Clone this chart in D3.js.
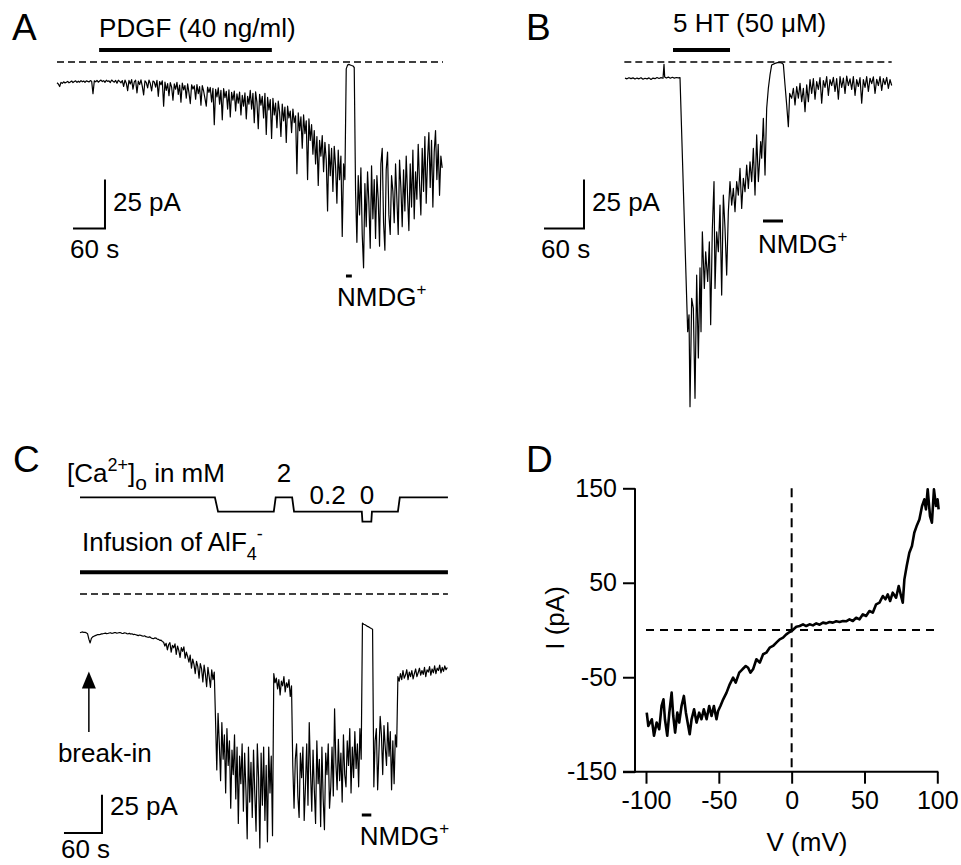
<!DOCTYPE html>
<html><head><meta charset="utf-8">
<script src="https://cdn.jsdelivr.net/npm/d3@7"></script>
<style>
body{margin:0;background:#fff}
text{font-family:'Liberation Sans',Arial,Helvetica,sans-serif;fill:#000}
</style>
</head><body>
<svg id="chart" width="961" height="865"></svg>
<script>
// ---------------- DATA ----------------
// Panel A: whole-cell current (pA), sampled every aStep seconds
const aStep = 2.5;
const aCurrent = [
-10.6,-11.2,-12.5,-10.4,-10.9,-10.1,-10.7,-10.3,-9.9,-10.6,
-10.2,-9.7,-10.5,-10.0,-9.6,-10.4,-9.8,-10.3,-9.5,-10.1,
-9.7,-10.4,-9.6,-9.9,-10.2,-9.5,-9.8,-16.2,-9.6,-10.1,
-9.4,-10.3,-9.7,-9.2,-10.0,-9.5,-10.4,-9.3,-9.9,-9.6,
-10.5,-9.2,-9.8,-10.3,-9.4,-10.8,-9.3,-9.9,-10.6,
-9.5,-12.5,-9.2,-10.8,-14.6,-9.4,-11.2,-9.0,-13.8,-10.1,
-9.3,-15.8,-9.8,-11.5,-9.1,-12.4,-16.8,-9.6,-10.5,-13.2,
-9.2,-11.0,-14.8,-9.7,-10.2,-12.8,-9.4,-17.5,-10.0,-11.6,
-9.6,-22.5,
-10.2,-14.5,-11.0,-17.2,-10.5,-12.8,-19.5,-11.2,
-13.9,-10.4,-16.5,-11.8,-20.5,-10.8,-14.2,-12.0,
-18.4,-11.2,-15.6,-21.2,-11.6,-13.8,-12.2,-19.0,
-11.5,-16.2,-12.6,-22.0,-12.0,-14.8,-18.6,-22.5,
-12.8,-15.5,-13.0,-20.4,-13.4,-32.0,-14.0,-17.8,
-13.2,-21.5,-14.5,-29.5,-13.6,-18.2,-15.0,-24.0,
-14.2,-28.0,-15.5,-19.5,-14.8,-25.0,-16.2,-21.0,
-15.4,-27.0,-17.0,-22.5,-15.8,-29.0,-17.5,-21.5,
-14.5,-24.0,-16.0,-31.0,-15.2,-20.5,-34.0,-16.5,
-22.0,-17.5,-28.5,-16.0,-37.0,-18.0,-24.5,-19.2,
-39.0,-18.5,-27.0,-21.0,-33.5,-20.0,-25.5,-38.0,
-21.5,-30.0,-23.0,-41.0,-22.5,-28.5,-25.0,-36.0,
-24.0,-31.0,-27.5,-57.0,-26.0,-35.0,-28.0,-44.0,
-27.0,-36.5,-30.0,-60.0,-29.0,-40.0,-32.0,-47.0,
-35.0,-52.0,-38.0,-63.0,-40.0,-48.0,-37.5,-56.0,
-41.0,-50.0,-76.0,-42.0,-58.0,-44.0,-66.0,-43.0,
-53.0,-72.0,-45.0,-60.0,-48.0,-89.0,-52.0,-60.0,
-3.5,-1.6,-1.2,-1.5,-1.8,-2.0,-2.8,
-66,-92,-58,-78,-54,-88,-105,-62,
-84,-56,-72,-95,-53,-80,-60,-90,
-58,-70,-94,-52,-44,-82,-96,-55,
-46,-78,-88,-58,-66,
-82,-52,-70,-88,-50,-64,-84,-55,
-76,-48,-68,-86,-52,-74,-45,-80,
-56,-70,-42,-62,-78,-44,-66,-38,
-72,-50,-36,-64,-40,-74,-46,-35,
-60,-42,-68,-48,-54];
const aPdgf = [79, 403];      // application period (s)
const aNmdg = [542, 553];

// Panel B
const bTime = [0,3,6,9,12,15,18,21,24,27,30,33,36,39,42,45,48,51,54,57,58.5,59.5,62,65,68,71,74,77,80,82.5,
94,96,97.5,100,102.5,105,107.5,110,112.5,114,116,119,121,124,126.5,128.5,131,133.5,135,137.5,140,142.5,145,147.5,150,152.5,155,157.5,160,162.5,165,167.5,170,172.5,175,177.5,180,182.5,185,187.5,190,192.5,195,197.5,200,201.5,203.5,205,207.5,210,212.5,215,217.5,220,225,230,235,237.5,240,242.5,245,247,250,252.5,255,257.5,260,262.5,265,267.5,270,272.5,275,
277.5,280,282.5,285,287.5,290,292.5,295,297.5,300,302.5,305,307.5,310,312.5,315,317.5,320,322.5,325,327.5,330,332.5,335,337.5,340,342.5,345,347.5,350,352.5,355,357.5,360,362.5,365,367.5,370,372.5,375,377.5,380,382.5,385,387.5,390,392.5,395,397.5,400];
const bCurrent = [-8.2,-8.6,-8.0,-8.5,-8.1,-8.7,-8.2,-8.6,-8.0,-8.8,-8.3,-8.6,-8.1,-8.9,-8.2,-8.5,-7.9,-8.4,-8.0,-8.3,-1.2,-7.6,-8.2,-7.7,-8.3,-7.8,-8.2,-7.9,-8.1,-8.0,
-137.6,-129,-175.9,-120.6,-125.7,-171.6,-108.7,-151,-105,-137.6,-86.6,-115.5,-96.8,-112,-91.7,-134,-84.9,-61,-115.5,-86.6,-96.8,-73,-118.9,-67.9,-84.9,-108.7,-76.4,-61,-73,-64.5,-76.4,-61,-67.9,-54.3,-74.7,-59.3,-66.2,-52.6,-64.5,-50.9,-61,-44,-67.9,-37.2,-61,-52.6,-40.6,-49.1,-28.7,-57.7,-23.6,-13.4,-6.6,-1.5,-0.7,-0.2,-0.5,-1.2,-11.7,-21.9,-33,-16,-18.5,-13.4,-21.9,-12.6,-18.5,-10.9,-20.2,-13.4,-25.3,-11.7,-20.2,
-9,-16,-8.5,-19,-10,-14,-8,-21,-9.5,-13,-7.5,-17,-9,-12,-7.8,-15,-8.5,-19,-7.5,-13,-8.2,-16,-7.2,-12,-8.6,-14,-7.5,-17,-9,-12.5,-8,-21,-9,-13,-7.5,-15,-8.3,-11,-7.6,-16,-8.8,-12,-7.4,-14.5,-8.5,-11.5,-7.8,-13.5,-9,-12];
const b5ht = [72, 157.5];
const bNmdg = [207, 237];

// Panel C: current (pA) sampled every cStep seconds
const cStep = 2;
const cCurrent = [
-25.3,-25.0,-24.8,-25.1,-25.0,-25.4,-26.0,-29.5,-32.0,-29.0,
-28.0,-27.6,-27.2,-26.9,-26.5,-26.6,-26.4,-26.1,-26.0,-25.8,
-25.6,-25.9,-25.8,-25.5,-25.3,-25.7,-25.6,-25.3,-25.2,-25.6,
-25.5,-25.2,-25.3,-25.7,-25.8,-25.4,-25.5,-25.9,-26.0,-25.7,
-26.2,-26.0,-26.5,-26.3,-26.6,-26.9,-27.2,-26.8,-27.0,-27.4,
-27.6,-27.3,-27.9,-28.1,-28.3,-28.0,-28.6,-29.0,-29.2,-28.7,
-28.8,-29.5,-29.6,-30.3,-30.2,-31.0,
-31.5,-34.0,-32.2,-36.5,-33.0,-31.8,-38.0,-33.5,-35.2,-32.6,
-39.5,-34.0,-36.8,-41.5,-35.0,-37.5,-34.5,-42.0,-38.0,-41.0,
-44.5,-40.0,-48.5,-42.5,-46.0,-52.0,-44.0,-47.5,-55.0,-45.5,
-49.0,-57.5,-46.5,-52.5,-60.5,-48.0,-54.0,-61.0,-49.5,-56.0,
-51.0,
-82,-115,-78,-98,-122,-84,-108,-92,-130,-88,
-112,-96,-140,-102,-118,-92,-134,-100,-150,-106,
-124,-98,-142,-104,-128,-160,-100,-136,-110,-146,
-102,-130,-155,-98,-120,-166,-104,-138,-100,-148,
-112,-162,-100,-130,-106,-158,
-52,-58,-55,-62,-56,-66,-57,-60,-54,-64,-58,-61,-56,-67,-60,
-112,-140,-108,-98,-132,-146,-104,-120,-100,-148,
-126,-98,-138,-84,-116,-142,-102,-128,-150,-96,
-124,-108,-152,-100,-134,-154,-104,-118,-98,-140,
-126,-100,-132,-75,-110,-128,-95,-122,-104,-136,
-92,-118,-126,-96,-112,-88,-130,-100,-120,-90,
-114,-98,-126,-88,-108,
-19,-19.8,-20.1,-20.6,-21.2,-21.5,-22.1,-22.6,-23,
-126,-96,-88,-128,-104,-80,-92,-118,-86,-100,-112,-84,-106,-90,-128,-96,-124,-92,-100,
-54,-57,-52,-56,-50,-55,-53,-49.5,-56,-51,
-54,-50,-55.5,-52,-49,-54,-51.5,-48.5,-53,-50,
-52.5,-48,-54,-49.5,-51,-47.5,-53,-49,-51.5,-47,
-52,-48.5,-50,-46.5,-51.5,-48,-50.5,-47,-49.5,-48];
const caTimes  = [0, 213, 218, 306, 309, 335, 338, 445, 446, 460, 461, 502, 505, 581];
const caLevels = [2, 2, 0.2, 0.2, 2, 2, 0.2, 0.2, 0, 0, 0.2, 0.2, 2, 2];
const caLabels = [{t:322, text:"2", lvl:2}, {t:391, text:"0.2", lvl:0.2}, {t:453, text:"0", lvl:0.2}];
const cBreakIn = 14;
const cNmdg = [445, 460];
const cInfusion = [0, 581];

// Panel D: I-V relation
const dVoltage = [-99.5,-98.4,-96,-94.5,-92.7,-90.9,-89.3,-88,-87,-85.4,-84,-82.4,-81.3,-80,-78.5,-77.2,-75.6,-74,-72.6,-71,-70,-68.7,-67,-65.3,-63.5,-61.9,-60.3,-58.4,-56.6,-55,-53.4,-51.6,-50.5,-48.9,-47,-44.7,-42.5,-40.2,-38.4,-36,-33.8,-31.5,-29.9,-28.3,-26.5,-24.2,-21.9,-19.6,-17.4,-15.1,-12.8,-10.5,-8.2,-5.9,-3.7,-1.4,0,3.2,5.5,7.8,10,12.3,14.6,16.9,19.2,21.5,23.7,26,28.3,30.6,32.9,35.2,37.4,39.7,42,44.3,46.6,48.9,51.1,53.4,55.7,58,60.3,62.6,64.4,66,67.6,69.4,71.7,73.5,75.1,76.3,77.4,79,80.8,82.6,84.2,85.8,87.7,89.5,91.1,92.2,93.4,95,96.3,97.7,99.1,100.2,100.9];
const dCurrent = [-87.5,-101.6,-94.5,-112,-98,-105,-80.4,-73.4,-94.5,-112,-87.5,-66.3,-91,-108.6,-87.5,-98,-80.4,-69.8,-87.5,-101.6,-110.4,-94.5,-84,-98,-87.5,-94.5,-84,-94.5,-80.4,-91,-80.4,-94.5,-85.7,-80.4,-73.4,-66.3,-57.5,-50.4,-55.7,-45.1,-41.6,-38.1,-39.9,-45.1,-41.6,-31,-34.6,-25.7,-24,-18.7,-16.9,-13.4,-9.9,-8.1,-4.6,-2.1,-1.1,3.5,4.2,6,4.2,6,4.9,7,5.6,7.8,7,8.5,7.8,9.2,8.5,9.5,9.2,11.3,9.5,13,11.3,16.6,14.8,20.1,18.3,27.2,28.9,36,32.5,37.7,30.7,39.5,34.2,46.6,36,28.9,53.6,67.7,81.8,88.9,103,110,117,131,138.3,127.7,148.9,120.6,113.6,148.9,131.2,138.3,127.7];
const dTicksY = [-150, -50, 50, 150];
const dTicksX = [-100, -50, 0, 50, 100];

const barTime = 60, barCurrent = 25;

// ---------------- DRAW ----------------
const svg = d3.select("#chart");
svg.append("rect").attr("width", 961).attr("height", 865).attr("fill", "#fff");
const FS = 26;

function txt(x, y, s, size, anchor) {
  return svg.append("text").attr("x", x).attr("y", y)
    .attr("font-size", size || FS).attr("text-anchor", anchor || "start").text(s);
}
function seg(x1, y1, x2, y2, w, dash) {
  const l = svg.append("line").attr("x1", x1).attr("y1", y1).attr("x2", x2).attr("y2", y2)
    .attr("stroke", "#000").attr("stroke-width", w);
  if (dash) l.attr("stroke-dasharray", dash);
  return l;
}
function nmdg(x, y) {
  const t = txt(x, y, "NMDG");
  t.append("tspan").attr("font-size", 17).attr("dy", -11).text("+");
}
function scaleBar(xs, ys, tEnd, iBot, sy) {
  svg.append("path")
    .attr("d", `M${xs(tEnd - barTime)},${ys(iBot)}H${xs(tEnd)}V${ys(iBot + barCurrent)}`)
    .attr("fill", "none").attr("stroke", "#000").attr("stroke-width", 2);
  txt(xs(tEnd) + 8, ys(iBot) - 18, barCurrent + " pA");
  txt(xs(tEnd - barTime) - 3, ys(iBot) + (sy || 29), barTime + " s");
}
function trace(data, line, w) {
  svg.append("path").datum(data).attr("d", line)
    .attr("fill", "none").attr("stroke", "#000").attr("stroke-width", w).attr("stroke-linejoin", "round");
}

// Panel letters
txt(12, 40, "A", 37); txt(526, 40, "B", 37); txt(13, 472, "C", 37); txt(526, 472, "D", 37);

// ---- Panel A ----
const ax = d3.scaleLinear().domain([0, 724]).range([57, 443]);
const ay = d3.scaleLinear().domain([0, -100]).range([62, 258]);
seg(ax(0), ay(0), ax(724), ay(0), 1.6, "7,4");
trace(aCurrent, d3.line().x((d, i) => ax(i * aStep)).y(d => ay(d)), 1.2);
seg(ax(aPdgf[0]), 50, ax(aPdgf[1]), 50, 4);
txt(ax(aPdgf[0]), 37, "PDGF (40 ng/ml)");
seg(ax(aNmdg[0]), 276, ax(aNmdg[1]), 276, 3);
nmdg(ax(aNmdg[0]) - 9, 306);
scaleBar(ax, ay, 90, -85);

// ---- Panel B ----
const bx = d3.scaleLinear().domain([0, 400]).range([625, 891.7]);
const by = d3.scaleLinear().domain([0, -100]).range([62, 258]);
seg(bx(-1), by(0), bx(400), by(0), 1.6, "7,4");
trace(d3.zip(bTime, bCurrent), d3.line().x(d => bx(d[0])).y(d => by(d[1])), 1.2);
seg(bx(b5ht[0]), 50, bx(b5ht[1]), 50, 4);
txt(bx(b5ht[0]), 32, "5 HT (50 \u03BCM)");
seg(bx(bNmdg[0]), 221, bx(bNmdg[1]), 221, 3);
nmdg(bx(bNmdg[0]) - 5, 253);
scaleBar(bx, by, -61.5, -85);

// ---- Panel C ----
const cx = d3.scaleLinear().domain([0, 580]).range([80, 447.3]);
const cy = d3.scaleLinear().domain([0, -100]).range([594, 747]);
const caY = d3.scaleLinear().domain([0, 0.2, 2]).range([521.7, 511.7, 497.3]);
const caT = txt(67, 482, "[Ca");
caT.append("tspan").attr("font-size", 18).attr("dy", -11).text("2+");
caT.append("tspan").attr("font-size", FS).attr("dy", 11).text("]");
caT.append("tspan").attr("font-size", 21).attr("dy", 8).text("o");
caT.append("tspan").attr("font-size", FS).attr("dy", -8).text(" in mM");
caLabels.forEach(l => txt(cx(l.t), caY(l.lvl) - (l.lvl === 2 ? 15 : 8), l.text, FS, "middle"));
svg.append("path").datum(d3.zip(caTimes, caLevels))
  .attr("d", d3.line().x(d => cx(d[0])).y(d => caY(d[1])))
  .attr("fill", "none").attr("stroke", "#000").attr("stroke-width", 1.8);
const inf = txt(82, 551, "Infusion of AlF");
inf.append("tspan").attr("font-size", 18).attr("dy", 9).text("4");
inf.append("tspan").attr("font-size", 18).attr("dy", -20).text("-");
seg(cx(cInfusion[0]), 572.3, cx(cInfusion[1]), 572.3, 4);
seg(cx(0), cy(0), cx(581), cy(0), 1.6, "7,4");
trace(cCurrent, d3.line().x((d, i) => cx(i * cStep)).y(d => cy(d)), 1.2);
const bxp = cx(cBreakIn);
seg(bxp, 686, bxp, 732, 1.5);
svg.append("path").attr("d", `M${bxp},671.5L${bxp - 7},688.5L${bxp + 7},688.5Z`).attr("fill", "#000");
txt(bxp + 16, 762, "break-in", FS, "middle");
seg(cx(cNmdg[0]), 815, cx(cNmdg[1]), 815, 3);
nmdg(cx(cNmdg[0]) - 2, 845);
scaleBar(cx, cy, 34.7, -156.2, 25);

// ---- Panel D ----
const dx = d3.scaleLinear().domain([-100, 100]).range([646, 937.3]);
const dy = d3.scaleLinear().domain([-150, 150]).range([771.7, 488.3]);
const fmt = v => String(v);
const yAx = svg.append("g").attr("transform", "translate(635,0)")
  .call(d3.axisLeft(dy).tickValues(dTicksY).tickFormat(fmt).tickSize(12).tickSizeOuter(0).tickPadding(6));
const xAx = svg.append("g").attr("transform", `translate(0,${dy(-150)})`)
  .call(d3.axisBottom(dx).tickValues(dTicksX).tickFormat(fmt).tickSize(12).tickSizeOuter(0).tickPadding(8));
[yAx, xAx].forEach(g => {
  g.select(".domain").remove();
  g.selectAll("line").attr("stroke", "#000").attr("stroke-width", 2);
  g.selectAll("text").attr("font-size", 25).attr("fill", "#000")
    .style("font-family", "'Liberation Sans',Arial,sans-serif");
});
seg(635, dy(150), 635, dy(-150) + 1, 2);
seg(623, dy(-150), dx(100) + 1, dy(-150), 2);
seg(dx(-100), dy(0), dx(100), dy(0), 1.8, "8,6");
seg(dx(0), dy(150), dx(0), dy(-150), 2, "9,6");
trace(d3.zip(dVoltage, dCurrent), d3.line().x(d => dx(d[0])).y(d => dy(d[1])), 2.6);
svg.append("text").attr("transform", "translate(564,618) rotate(-90)")
  .attr("text-anchor", "middle").attr("font-size", FS).text("I (pA)");
txt(807, 851, "V (mV)", FS, "middle");
</script>
</body></html>
